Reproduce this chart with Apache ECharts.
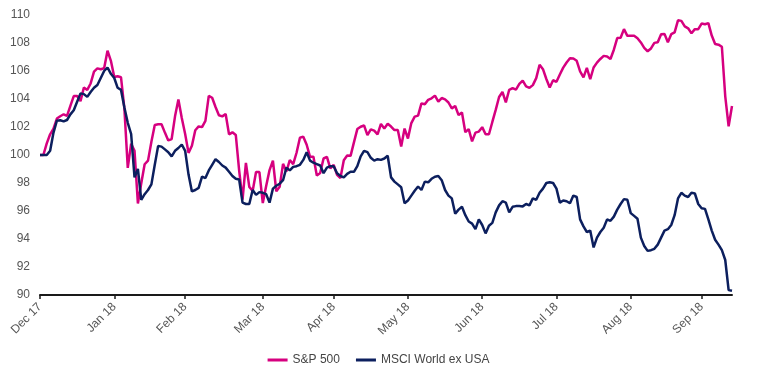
<!DOCTYPE html>
<html>
<head>
<meta charset="utf-8">
<script src="https://cdn.jsdelivr.net/npm/echarts@6/dist/echarts.min.js"></script>
<style>
html,body{margin:0;padding:0;background:#fff;}
#chart{width:757px;height:378px;}
</style>
</head>
<body>
<div id="chart"></div>
<script>
// Weekday observations, 29 Dec 2017 = 100
const tickIndex = [0, 22, 43, 66, 87, 109, 131, 153, 175, 196];
const tickLabels = ['Dec 17', 'Jan 18', 'Feb 18', 'Mar 18', 'Apr 18', 'May 18', 'Jun 18', 'Jul 18', 'Aug 18', 'Sep 18'];
const yTicks = [90, 92, 94, 96, 98, 100, 102, 104, 106, 108, 110];

const sp500 = [
100.00,100.00,100.83,101.48,101.88,102.60,102.77,102.91,102.79,103.51,
104.21,104.21,103.85,104.82,104.65,105.11,105.96,106.19,106.13,106.20,
107.45,106.73,105.57,105.62,105.55,103.31,99.08,100.81,100.30,96.54,
97.98,99.34,99.60,100.94,102.15,102.19,102.19,101.60,101.04,101.14,
102.76,103.96,102.64,101.50,100.15,100.66,101.77,102.04,101.99,102.44,
104.22,104.09,103.43,102.84,102.76,102.93,101.47,101.62,101.43,98.88,
96.81,99.44,97.72,97.43,98.78,98.78,96.57,97.79,98.92,99.60,
97.41,97.74,99.37,98.82,99.64,99.35,100.16,101.23,101.31,100.73,
99.87,99.88,98.54,98.72,99.75,99.86,99.04,99.30,98.58,98.36,
99.62,99.96,99.94,100.90,101.85,102.02,102.11,101.42,101.83,101.74,
101.47,102.22,101.90,102.23,102.03,101.78,101.78,100.61,101.89,101.18,
102.28,102.74,102.81,103.69,103.62,103.94,104.05,104.24,103.82,104.07,
103.97,103.75,103.33,103.50,102.85,103.04,101.63,101.85,100.97,101.60,
101.67,101.99,101.48,101.48,102.36,103.22,104.14,104.50,103.76,104.66,
104.78,104.67,105.08,105.31,104.90,104.80,104.99,105.49,106.45,106.13,
105.43,104.82,105.34,105.23,105.75,106.24,106.61,106.91,106.89,106.73,
105.97,105.55,106.22,105.41,106.25,106.60,106.86,107.08,107.04,106.86,
107.52,108.35,108.37,108.99,108.51,108.52,108.52,108.34,108.04,107.65,
107.41,107.61,108.01,108.05,108.62,108.65,108.05,108.63,108.76,109.62,
109.58,109.19,109.05,108.69,108.99,108.99,109.39,109.34,109.42,108.53,
107.93,107.88,107.73,104.19,102.05,103.50
];

const msciWorldExUsa = [
100.0,100.0,100.0,100.3,101.6,102.45,102.48,102.4,102.5,102.9,
103.2,103.8,104.4,104.35,104.15,104.5,104.8,105.0,105.5,106.0,
106.25,105.8,105.5,104.8,104.65,103.4,102.3,101.5,98.4,99.0,
96.8,97.2,97.5,97.9,99.3,100.65,100.6,100.4,100.2,99.9,
100.3,100.5,100.75,100.3,98.6,97.4,97.5,97.65,98.45,98.35,
98.9,99.3,99.7,99.5,99.25,99.1,98.8,98.5,98.3,98.25,
96.6,96.5,96.5,97.5,97.15,97.35,97.3,97.2,96.6,97.6,
97.8,97.95,98.2,99.1,98.9,99.15,99.2,99.3,99.65,100.2,
99.6,99.45,99.35,99.25,98.7,99.1,99.2,99.2,98.7,98.5,
98.4,98.65,98.8,98.8,99.2,99.9,100.3,100.2,99.8,99.6,
99.7,99.65,99.75,99.95,98.4,98.1,97.9,97.7,96.55,96.75,
97.1,97.45,97.75,97.5,98.1,98.05,98.3,98.45,98.5,98.2,
97.5,97.1,96.9,95.8,96.1,96.3,95.7,95.25,95.1,94.7,
95.4,95.0,94.4,94.95,95.15,95.9,96.4,96.7,96.6,95.9,
96.3,96.35,96.35,96.33,96.5,96.4,96.9,96.8,97.3,97.6,
98.0,98.05,98.0,97.6,96.6,96.75,96.7,96.55,97.1,97.0,
95.4,94.9,94.5,94.6,93.4,94.1,94.5,94.8,95.4,95.3,
95.6,96.1,96.5,96.85,96.8,95.85,95.65,95.45,94.1,93.5,
93.15,93.2,93.3,93.6,94.1,94.6,94.7,95.0,95.7,96.9,
97.3,97.1,97.0,97.3,97.25,96.5,96.2,96.15,95.4,94.6,
93.95,93.6,93.2,92.5,90.35,90.3
];

const categories = sp500.map((_, i) => String(i));
const font = '"Liberation Sans", Arial, Helvetica, sans-serif';

const chart = echarts.init(document.getElementById('chart'), null, {renderer: 'canvas'});
chart.setOption({
  animation: false,
  backgroundColor: '#ffffff',
  grid: {left: 40, right: 25, top: 15, bottom: 83, containLabel: false},
  legend: {
    data: ['S&P 500', 'MSCI World ex USA'],
    top: 349,
    left: 'center',
    icon: 'rect',
    itemWidth: 20,
    itemHeight: 3,
    itemGap: 16,
    textStyle: {fontFamily: font, fontSize: 12, color: '#444'}
  },
  xAxis: {
    type: 'category',
    data: categories,
    boundaryGap: false,
    axisLine: {show: true, lineStyle: {color: '#1a1a1a', width: 2}},
    axisTick: {
      show: true,
      length: 4,
      lineStyle: {color: '#1a1a1a', width: 1.5},
      interval: (idx) => tickIndex.indexOf(idx) >= 0
    },
    axisLabel: {
      interval: (idx) => tickIndex.indexOf(idx) >= 0,
      formatter: (v, idx) => {
        const k = tickIndex.indexOf(Number(v));
        return k >= 0 ? tickLabels[k] : '';
      },
      rotate: 45,
      margin: 10,
      fontFamily: font,
      fontSize: 12,
      color: '#555'
    },
    splitLine: {show: false}
  },
  yAxis: {
    type: 'value',
    min: yTicks[0],
    max: yTicks[yTicks.length - 1],
    interval: 2,
    axisLine: {show: false},
    axisTick: {show: false},
    splitLine: {show: false},
    axisLabel: {
      margin: 10,
      fontFamily: font,
      fontSize: 12,
      color: '#555'
    }
  },
  series: [
    {
      name: 'S&P 500',
      type: 'line',
      data: sp500,
      symbol: 'none',
      lineStyle: {color: '#d6007f', width: 2.5},
      itemStyle: {color: '#d6007f'},
      z: 2
    },
    {
      name: 'MSCI World ex USA',
      type: 'line',
      data: msciWorldExUsa,
      symbol: 'none',
      lineStyle: {color: '#0c1f5e', width: 2.5},
      itemStyle: {color: '#0c1f5e'},
      z: 3
    }
  ]
});
</script>
</body>
</html>
